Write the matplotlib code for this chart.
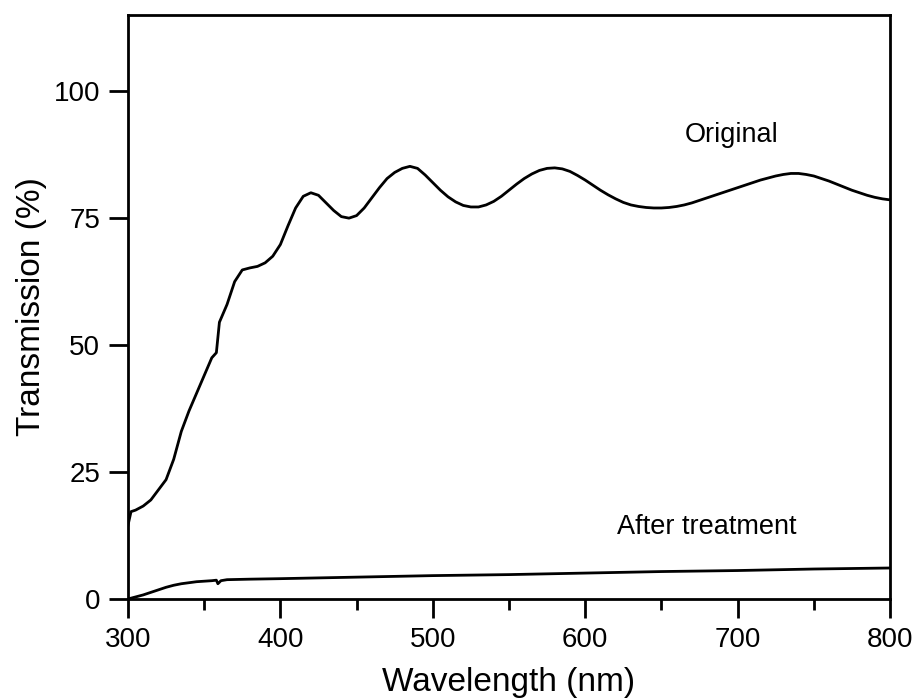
import matplotlib
matplotlib.use("Agg")
import matplotlib.pyplot as plt
from matplotlib.ticker import MultipleLocator

plt.rcParams['font.family'] = ['Liberation Sans', 'DejaVu Sans']

wl_orig = [300, 302, 305, 310, 315, 320, 325, 330, 335, 340, 345, 350, 355, 358, 360,
           365, 370, 375, 380, 385, 390, 395, 400, 405, 410, 415, 420, 425, 430, 435,
           440, 445, 450, 455, 460, 465, 470, 475, 480, 485, 490, 495, 500, 505, 510,
           515, 520, 525, 530, 535, 540, 545, 550, 555, 560, 565, 570, 575, 580, 585,
           590, 595, 600, 605, 610, 615, 620, 625, 630, 635, 640, 645, 650, 655, 660,
           665, 670, 675, 680, 685, 690, 695, 700, 705, 710, 715, 720, 725, 730, 735,
           740, 745, 750, 755, 760, 765, 770, 775, 780, 785, 790, 795, 800]
t_orig = [14.5, 17.2, 17.5, 18.3, 19.5, 21.5, 23.5, 27.5, 33.0, 37.0, 40.5, 44.0, 47.5, 48.5, 54.5,
          58.0, 62.5, 64.8, 65.2, 65.5, 66.2, 67.5, 69.8, 73.5, 77.0, 79.3, 80.0, 79.5, 78.0, 76.5,
          75.3, 75.0, 75.5, 77.0, 79.0, 81.0, 82.8, 84.0, 84.8, 85.2, 84.8, 83.5, 82.0, 80.5, 79.2,
          78.2, 77.5, 77.2, 77.2, 77.6, 78.3, 79.3, 80.5, 81.7, 82.8, 83.7, 84.4, 84.8, 84.9, 84.7,
          84.2, 83.4, 82.5, 81.5, 80.5, 79.6, 78.8, 78.1, 77.6, 77.3, 77.1, 77.0, 77.0, 77.1, 77.3,
          77.6, 78.0, 78.5, 79.0, 79.5, 80.0, 80.5, 81.0, 81.5, 82.0, 82.5, 82.9, 83.3, 83.6, 83.8,
          83.8, 83.6, 83.3, 82.8, 82.3, 81.7, 81.1, 80.5, 80.0, 79.5, 79.1, 78.8, 78.6]

wl_treat = [300, 305, 310, 315, 320, 325, 330, 335, 340, 345, 350, 355, 358, 359, 361,
            365, 380, 400, 450, 500, 550, 600, 650, 700, 750, 800]
t_treat = [0.0, 0.4, 0.8, 1.3, 1.8, 2.3, 2.7, 3.0, 3.2, 3.4, 3.5, 3.6, 3.7, 3.0, 3.6,
           3.8, 3.9, 4.0, 4.3, 4.6, 4.8, 5.1, 5.4, 5.6, 5.9, 6.1]

x_ticks = [300, 400, 500, 600, 700, 800]
y_ticks = [0, 25, 50, 75, 100]

fig = plt.figure(figsize=(9.18, 6.99), dpi=100)
ax = fig.add_axes([0.1394, 0.1431, 0.8301, 0.8354])

ax.plot(wl_orig, t_orig, color='black', lw=2.0)
ax.plot(wl_treat, t_treat, color='black', lw=2.0)

ax.set_xlim(300, 800)
ax.set_ylim(0, 115)
ax.set_xticks(x_ticks)
ax.set_yticks(y_ticks)
ax.xaxis.set_minor_locator(MultipleLocator(50))

for s in ax.spines.values():
    s.set_linewidth(2.0)
ax.tick_params(axis='both', which='major', direction='out', length=14, width=2, labelsize=20, pad=6)
ax.tick_params(axis='x', which='minor', direction='out', length=8, width=2)

ax.set_xlabel('Wavelength (nm)', fontsize=24, labelpad=10)
ax.set_ylabel('Transmission (%)', fontsize=24, labelpad=5)

ax.text(696, 91.3, 'Original', fontsize=19.5, ha='center', va='center')
ax.text(680, 14.1, 'After treatment', fontsize=19.5, ha='center', va='center')

fig.savefig('out.png', dpi=100)
